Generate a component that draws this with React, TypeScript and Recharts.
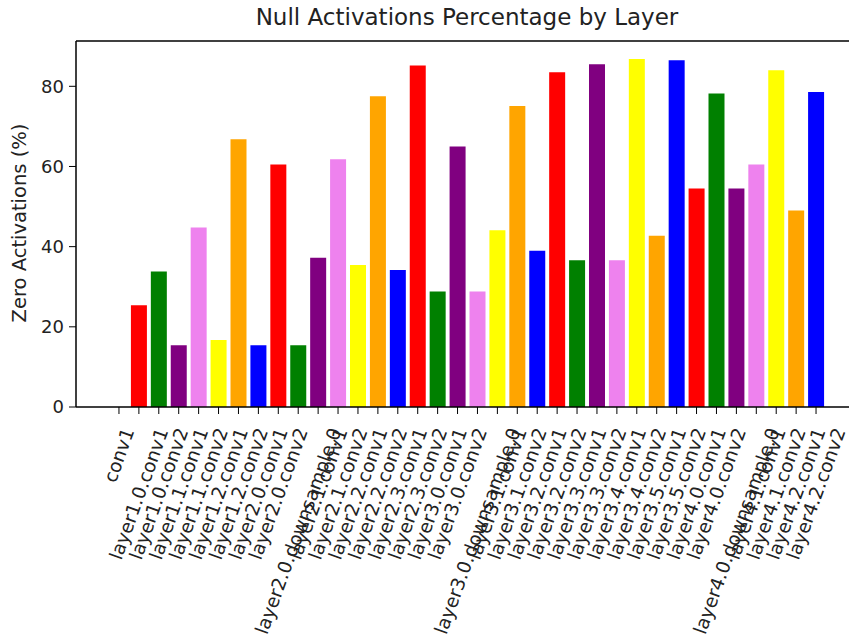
import React from 'react';
import { BarChart, Bar, Cell, XAxis, YAxis, ReferenceLine } from 'recharts';

const layers = [
  'conv1',
  'layer1.0.conv1', 'layer1.0.conv2', 'layer1.1.conv1', 'layer1.1.conv2', 'layer1.2.conv1', 'layer1.2.conv2',
  'layer2.0.conv1', 'layer2.0.conv2', 'layer2.0.downsample.0', 'layer2.1.conv1', 'layer2.1.conv2',
  'layer2.2.conv1', 'layer2.2.conv2', 'layer2.3.conv1', 'layer2.3.conv2',
  'layer3.0.conv1', 'layer3.0.conv2', 'layer3.0.downsample.0', 'layer3.1.conv1', 'layer3.1.conv2',
  'layer3.2.conv1', 'layer3.2.conv2', 'layer3.3.conv1', 'layer3.3.conv2', 'layer3.4.conv1', 'layer3.4.conv2',
  'layer3.5.conv1', 'layer3.5.conv2',
  'layer4.0.conv1', 'layer4.0.conv2', 'layer4.0.downsample.0', 'layer4.1.conv1', 'layer4.1.conv2',
  'layer4.2.conv1', 'layer4.2.conv2',
];

const zeroPct = [
  0, 25.4, 33.8, 15.4, 44.8, 16.7, 66.8, 15.4, 60.5, 15.4, 37.2, 61.8,
  35.4, 77.5, 34.2, 85.2, 28.8, 65.0, 28.8, 44.1, 75.1, 39.0, 83.5, 36.6,
  85.5, 36.6, 86.8, 42.7, 86.5, 54.5, 78.2, 54.5, 60.5, 84.0, 49.0, 78.6,
];

const yTicks = [0, 20, 40, 60, 80];
const yMax = 91.3;

const barColors = ['blue', 'red', 'green', 'purple', 'violet', 'yellow', 'orange'];

const data = layers.map((name, i) => ({ name, value: zeroPct[i] }));

const FONT = '"DejaVu Sans", sans-serif';
const TICK_SIZE = 18;
const XLABEL_SIZE = 18.6;

let ctx: CanvasRenderingContext2D | null = null;
const measure = (s: string) => {
  if (!ctx) {
    ctx = document.createElement('canvas').getContext('2d');
  }
  if (!ctx) return s.length * XLABEL_SIZE * 0.56;
  ctx.font = `${XLABEL_SIZE}px "DejaVu Sans"`;
  return ctx.measureText(s).width;
};

// matplotlib style rotated label: rotated bbox centred on the tick
const XTick = (props: any) => {
  const { x, y, payload } = props;
  const w = measure(payload.value);
  const h = XLABEL_SIZE * 1.17;
  const a = (70 * Math.PI) / 180;
  const boxH = w * Math.sin(a) + h * Math.cos(a);
  const cx = x;
  const cy = y + 11 + boxH / 2;
  return (
    <text
      x={cx}
      y={cy}
      textAnchor="middle"
      dominantBaseline="central"
      fontSize={XLABEL_SIZE}
      fontFamily={FONT}
      fill="#222"
      transform={`rotate(-70 ${cx} ${cy})`}
    >
      {payload.value}
    </text>
  );
};

export default function App() {
  return (
    <div
      style={{
        position: 'absolute',
        left: 0,
        top: 0,
        width: 849,
        height: 639,
        background: '#fff',
        overflow: 'hidden',
        fontFamily: FONT,
      }}
    >
      <div
        style={{
          position: 'absolute',
          left: 217,
          width: 500,
          top: 4,
          textAlign: 'center',
          fontSize: 23,
          color: '#222',
          whiteSpace: 'nowrap',
        }}
      >
        Null Activations Percentage by Layer
      </div>
      <div
        style={{
          position: 'absolute',
          left: 19,
          top: 223,
          transform: 'translate(-50%, -50%) rotate(-90deg)',
          fontSize: 19.5,
          color: '#222',
          whiteSpace: 'nowrap',
        }}
      >
        Zero Activations (%)
      </div>
      <BarChart
        width={849}
        height={639}
        data={data}
        margin={{ top: 41, right: 0, left: 0, bottom: 0 }}
        style={{ position: 'absolute', left: 0, top: 0 }}
      >
        <XAxis
          dataKey="name"
          interval={0}
          height={232}
          padding={{ left: 33, right: 23 }}
          tickSize={7}
          tickMargin={0}
          tickLine={{ stroke: '#000' }}
          axisLine={{ stroke: '#000', strokeWidth: 1.5 }}
          tick={<XTick />}
        />
        <YAxis
          width={76}
          domain={[0, yMax]}
          ticks={yTicks}
          allowDataOverflow
          tickSize={7}
          tickMargin={5}
          tickLine={{ stroke: '#000' }}
          axisLine={{ stroke: '#000', strokeWidth: 1.5 }}
          tick={{ fill: '#222', fontSize: TICK_SIZE, fontFamily: FONT }}
        />
        <ReferenceLine y={yMax} stroke="#000" strokeWidth={1.5} ifOverflow="visible" />
        <Bar dataKey="value" barSize={16} isAnimationActive={false}>
          {data.map((d, i) => (
            <Cell key={d.name} fill={barColors[i % barColors.length]} />
          ))}
        </Bar>
      </BarChart>
    </div>
  );
}
